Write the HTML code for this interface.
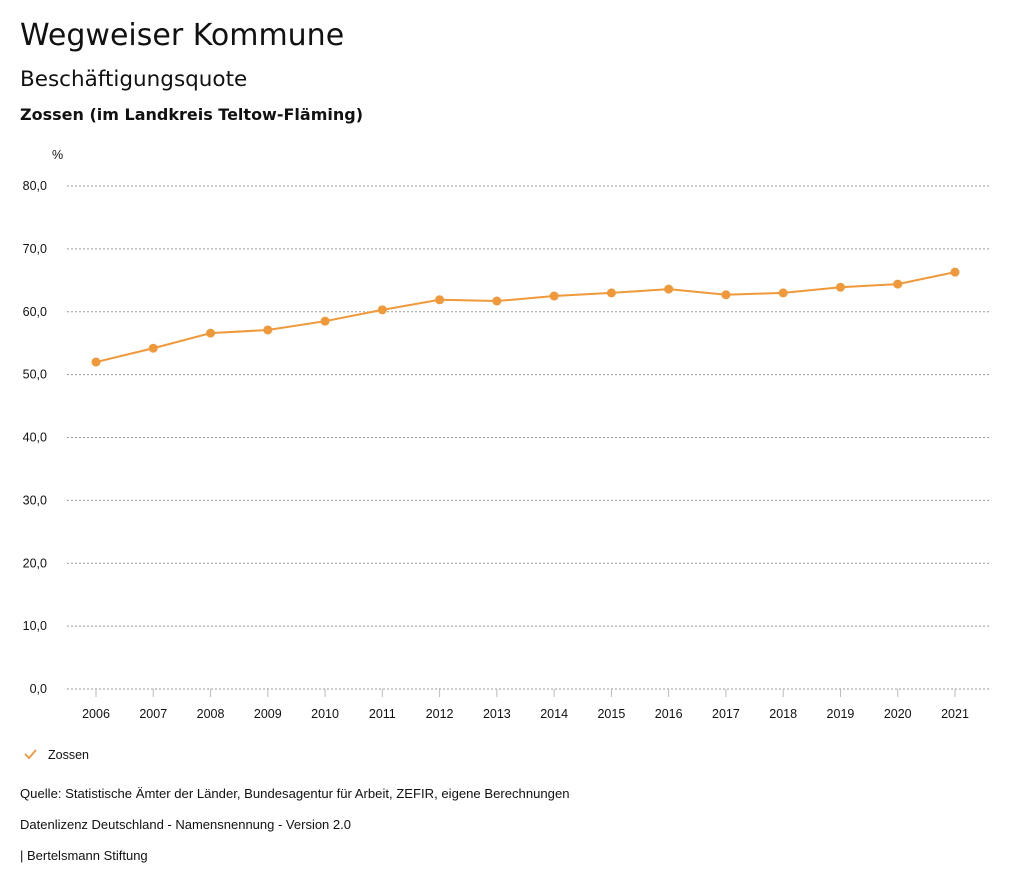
<!DOCTYPE html>
<html><head><meta charset="utf-8"><style>
body{margin:0;background:#fff;width:1024px;height:888px;overflow:hidden;font-family:"Liberation Sans",sans-serif;color:#111}
.t{position:absolute;left:20px;white-space:nowrap}
</style></head><body>
<div class="t" style="top:18px;font-family:'DejaVu Sans',sans-serif;font-size:30px">Wegweiser Kommune</div>
<div class="t" style="top:67px;font-family:'DejaVu Sans',sans-serif;font-size:21.5px">Beschäftigungsquote</div>
<div class="t" style="top:105px;font-family:'DejaVu Sans',sans-serif;font-size:16px;font-weight:bold">Zossen (im Landkreis Teltow-Fläming)</div>
<svg id="chart" width="1024" height="888" style="position:absolute;left:0;top:0" font-family="Liberation Sans, sans-serif" font-size="12.5" fill="#111"></svg>
<div class="t" style="top:786px;font-size:13.1px">Quelle: Statistische Ämter der Länder, Bundesagentur für Arbeit, ZEFIR, eigene Berechnungen</div>
<div class="t" style="top:817px;font-size:13px">Datenlizenz Deutschland - Namensnennung - Version 2.0</div>
<div class="t" style="top:848px;font-size:13px">| Bertelsmann Stiftung</div>
<script>
const years=[2006,2007,2008,2009,2010,2011,2012,2013,2014,2015,2016,2017,2018,2019,2020,2021];
const values=[52.0,54.2,56.6,57.1,58.5,60.3,61.9,61.7,62.5,63.0,63.6,62.7,63.0,63.9,64.4,66.3];
const yTicks=[0,10,20,30,40,50,60,70,80];
const ns="http://www.w3.org/2000/svg";
const svg=document.getElementById('chart');
const x=i=>96+i*(955-96)/15;
const y=v=>689-v*(689-186)/80;
function el(t,a){const e=document.createElementNS(ns,t);for(const k in a)e.setAttribute(k,a[k]);svg.appendChild(e);return e;}
const pct=el('text',{x:52,y:159});pct.textContent='%';


yTicks.forEach(v=>{
  const g=el('line',{x1:67,x2:990,y1:y(v),y2:y(v),stroke:'#999','stroke-dasharray':'2,2','stroke-width':1});
  
  
  const t=el('text',{x:47,y:y(v)+4,'text-anchor':'end'});t.textContent=v.toFixed(1).replace('.',',');
  
  
});
years.forEach((yr,i)=>{
  const tk=el('line',{x1:x(i),x2:x(i),y1:689,y2:697,stroke:'#bbb'});
  
  
  const t=el('text',{x:x(i),y:718,'text-anchor':'middle'});t.textContent=yr;
  
  
});
const p=el('polyline',{points:values.map((v,i)=>x(i)+','+y(v)).join(' '),fill:'none',stroke:'#f0993a','stroke-width':2});


values.forEach((v,i)=>{
  const c=el('circle',{cx:x(i),cy:y(v),r:4.5,fill:'#f0993a'});
  
  
});
const lg=el('path',{d:'M25,754 L29,758 L36,750',fill:'none',stroke:'#f0993a','stroke-width':1.8});


const lt=el('text',{x:48,y:759});lt.textContent='Zossen';


</script>
</body></html>
